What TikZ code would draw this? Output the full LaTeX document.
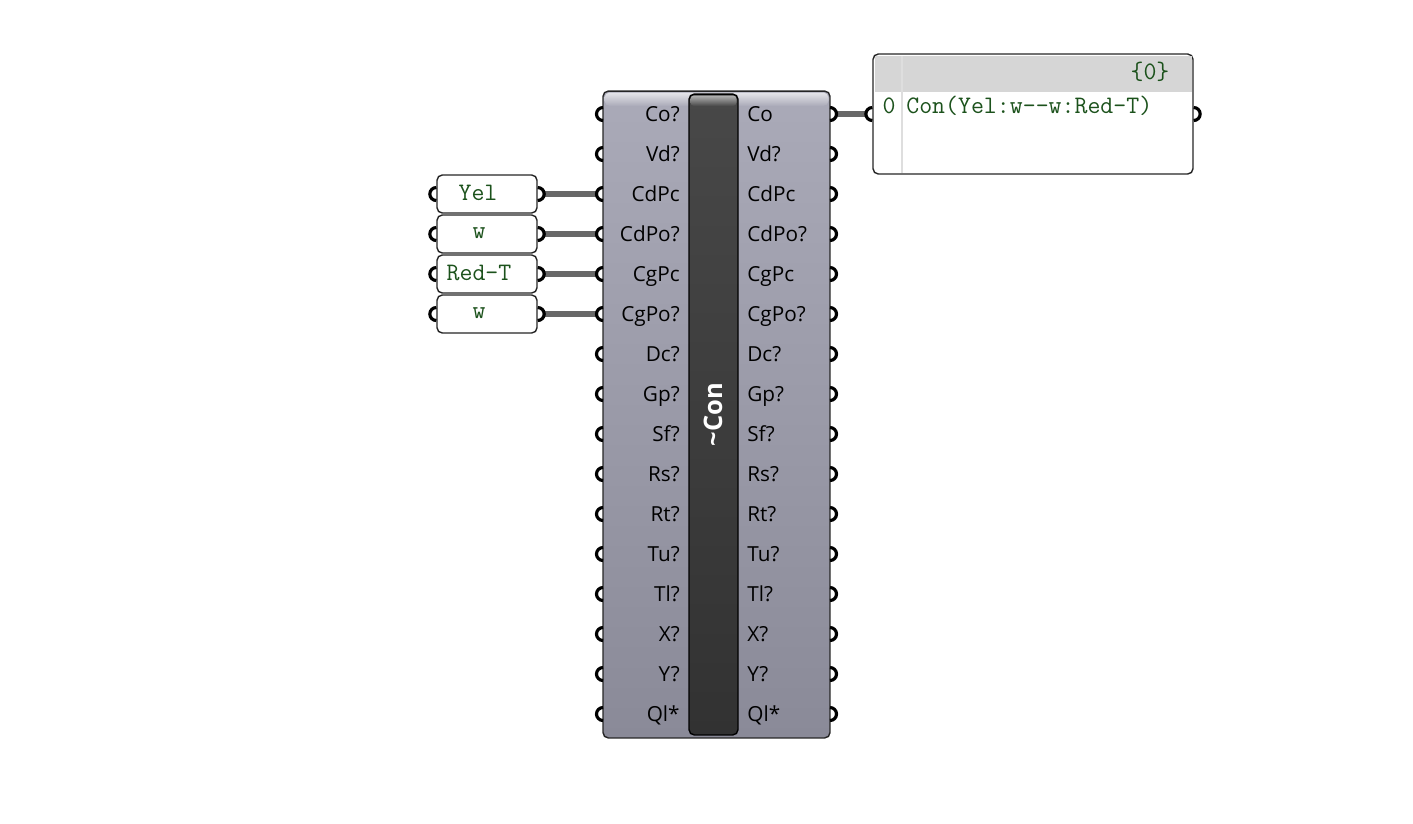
\documentclass[tikz,border=0pt]{standalone}
\usepackage{fontspec}
\setsansfont{Open Sans}
\usetikzlibrary{positioning,calc}
\definecolor{wirecol}{RGB}{104,104,104}
\definecolor{bodytop}{RGB}{170,170,184}
\definecolor{bodybot}{RGB}{138,138,152}
\definecolor{bartop}{RGB}{72,72,72}
\definecolor{barbot}{RGB}{50,50,50}
\definecolor{paneltext}{RGB}{28,82,28}
\definecolor{panelhead}{RGB}{214,214,214}
\definecolor{panelrule}{RGB}{222,222,222}
\tikzset{
  comp/.style={draw=black!85, line width=0.8pt, rounded corners=3pt, top color=bodytop, bottom color=bodybot, minimum width=4.54cm, minimum height=12.94cm, inner sep=0},
  namebar/.style={draw=black, line width=0.8pt, rounded corners=3pt, top color=bartop, bottom color=barbot, minimum width=0.98cm, minimum height=12.82cm, inner sep=0},
  port/.style={font=\sffamily\fontsize{11.8}{13}\selectfont, inner sep=0},
  panel/.style={draw=black!85, line width=0.8pt, fill=white, rounded corners=3pt, minimum width=2cm, minimum height=0.76cm, inner sep=0},
  ptext/.style={font=\ttfamily\fontsize{14.3}{16}\selectfont, text=paneltext, inner sep=0},
  wire/.style={draw=wirecol, line width=3.2pt},
  grip/.style={draw=black, line width=1.8pt},
}
\newcommand{\gripL}[1]{\draw[grip] ([yshift=0.13cm]#1) arc[start angle=90, end angle=270, radius=0.13cm];}
\newcommand{\gripR}[1]{\draw[grip] ([yshift=0.13cm]#1) arc[start angle=90, end angle=-90, radius=0.13cm];}
\begin{document}
\begin{tikzpicture}[x=0.02cm, y=-0.02cm]
  \useasboundingbox (0,0) rectangle (1413,823);
  % component body and its name bar
  \node[comp] (con) at (716.5,414.5) {};
  \shade[top color=white!70!bodytop, bottom color=bodytop, rounded corners=3pt] (604.5,92.5) rectangle (828.5,106);
  \node[namebar] (bar) at (713.5,414.5) {};
  \shade[top color=black!30, bottom color=bartop, rounded corners=2pt] (690.5,95.5) rectangle (736.5,106);
  \node[rotate=90, text=white, font=\sffamily\bfseries\fontsize{14.5}{16}\selectfont, inner sep=0] (conname) at (bar) {\char`\~Con};
  % parameters
  \foreach \lab [count=\i from 0] in {Co?,Vd?,CdPc,CdPo?,CgPc,CgPo?,Dc?,Gp?,Sf?,Rs?,Rt?,Tu?,Tl?,X?,Y?,Ql*} {
    \node[port, anchor=base east] (in\i) at (680,121+40*\i) {\lab};
    \coordinate (gin\i) at (603,114+40*\i);
  }
  \foreach \lab [count=\i from 0] in {Co,Vd?,CdPc,CdPo?,CgPc,CgPo?,Dc?,Gp?,Sf?,Rs?,Rt?,Tu?,Tl?,X?,Y?,Ql*} {
    \node[port, anchor=base west] (out\i) at (747,121+40*\i) {\lab};
    \coordinate (gout\i) at (830,114+40*\i);
  }
  % input panels
  \node[panel] (pyel) at (487,194) {}; \node[ptext] at (478,193) {Yel};
  \node[panel] (pw1) at (487,234) {}; \node[ptext] at (479,233) {w};
  \node[panel] (pred) at (487,274) {}; \node[ptext] at (479,273) {Red-T};
  \node[panel] (pw2) at (487,314) {}; \node[ptext] at (479,313) {w};
  % output panel
  \node[panel, minimum width=6.4cm, minimum height=2.4cm] (pout) at (1033,114) {};
  \fill[panelhead] (874.5,56) rectangle (1191.5,92);
  \draw[panelrule, line width=1.2pt] (902,56) -- (902,172.5);
  \node[ptext] (count) at (1150,72) {\{0\}};
  \node[ptext] (idx) at (889,106) {0};
  \node[ptext, anchor=west] (res) at (906,106) {Con(Yel:w{-}{-}w:Red-T)};
  % wires
  \foreach \p/\i in {pyel/2,pw1/3,pred/4,pw2/5} {
    \draw[wire] ([xshift=0.13cm]\p.east) -- ([xshift=-0.13cm]gin\i);
  }
  \draw[wire] ([xshift=0.13cm]gout0) -- ([xshift=-0.13cm]pout.west);
  % grips
  \foreach \i in {0,...,15} { \gripL{gin\i} \gripR{gout\i} }
  \foreach \p in {pyel,pw1,pred,pw2,pout} { \gripL{\p.west} \gripR{\p.east} }
\end{tikzpicture}
\end{document}
